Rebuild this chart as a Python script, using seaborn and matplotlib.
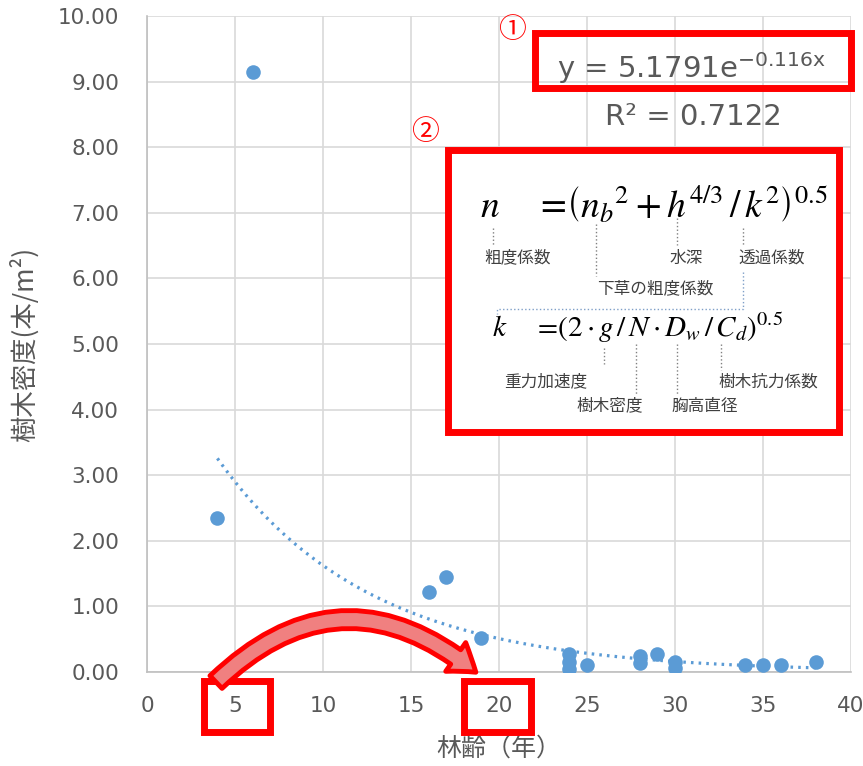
import numpy as np
import pandas as pd
import seaborn as sns
import matplotlib.pyplot as plt
from matplotlib.patches import Rectangle, FancyArrowPatch
from matplotlib.lines import Line2D

# data
age = [4, 6, 16, 17, 19, 24, 24, 24, 25, 28, 28, 29, 30, 30, 34, 35, 36, 38]
density = [2.35, 9.15, 1.22, 1.45, 0.52, 0.28, 0.15, 0.05, 0.11, 0.24, 0.13,
           0.27, 0.15, 0.06, 0.11, 0.10, 0.11, 0.16]
fit_a = 5.1791
fit_b = -0.116
x_ticks = [0, 5, 10, 15, 20, 25, 30, 35, 40]
y_ticks = [0, 1, 2, 3, 4, 5, 6, 7, 8, 9, 10]

sns.set_style("white")
plt.rcParams['font.family'] = ['Noto Sans CJK JP', 'DejaVu Sans']
plt.rcParams['mathtext.fontset'] = 'stix'

W, H = 863, 766
fig = plt.figure(figsize=(W / 100, H / 100), dpi=100)
fig.patch.set_facecolor('white')


def fx(px):
    return px / W


def fy(py):
    return 1 - py / H


ax = fig.add_axes([fx(147), fy(672), fx(851) - fx(147), (672 - 16) / H])

df = pd.DataFrame({'age': age, 'density': density})
sns.scatterplot(data=df, x='age', y='density', ax=ax, s=110,
                color='#5b9bd5', edgecolor='#5b9bd5', linewidth=0, zorder=3)

trend = pd.DataFrame({'age': np.linspace(min(age), max(age), 200)})
trend['density'] = fit_a * np.exp(fit_b * trend['age'])
sns.lineplot(data=trend, x='age', y='density', ax=ax, color='#5b9bd5',
             linewidth=2.3, linestyle=(0, (0.8, 1.6)), zorder=2)

ax.set_xlim(0, 40)
ax.set_ylim(0, 10)
ax.set_xticks(x_ticks)
ax.set_yticks(y_ticks)
ax.set_yticklabels([f'{v:.2f}' for v in y_ticks])
ax.grid(True, color='#d9d9d9', linewidth=1.2)
ax.set_axisbelow(True)
for s in ['top', 'right']:
    ax.spines[s].set_visible(False)
for s in ['left', 'bottom']:
    ax.spines[s].set_color('#bfbfbf')
    ax.spines[s].set_linewidth(1.2)
ax.tick_params(length=0, labelsize=15.5, colors='#595959')
ax.tick_params(axis='x', pad=17)
ax.tick_params(axis='y', pad=20)
for lab in ax.get_xticklabels() + ax.get_yticklabels():
    lab.set_family('DejaVu Sans')
ax.set_xlabel('林齢（年）', fontsize=18, color='#595959', va='center')
ax.xaxis.set_label_coords(0.5, (672 - 749) / 656)
ax.set_ylabel('樹木密度(本/m²)', fontsize=19, color='#595959', labelpad=14)

gray = '#595959'
red = '#ff0000'

# fitted equation
fig.text(fx(692), fy(68), r'y = 5.1791e$^{\mathregular{-0.116x}}$', fontsize=21,
         color=gray, ha='center', va='center', family='DejaVu Sans')
fig.text(fx(693), fy(117), 'R² = 0.7122', fontsize=21, color=gray,
         ha='center', va='center', family='DejaVu Sans')
fig.patches.append(Rectangle((fx(535), fy(88)), fx(851) - fx(535), (88 - 33) / H,
                             transform=fig.transFigure, fill=False,
                             edgecolor=red, linewidth=5))
fig.text(fx(512), fy(30), '①', fontsize=20, color=red, ha='center', va='center')
fig.text(fx(425), fy(132), '②', fontsize=20, color=red, ha='center', va='center')

# formula box
fig.patches.append(Rectangle((fx(448), fy(432)), fx(839) - fx(448), (432 - 150) / H,
                             transform=fig.transFigure, facecolor='white',
                             edgecolor=red, linewidth=5, zorder=5))
fig.text(fx(480), fy(206), r'$n\quad\ =\!\left(n_b{}^2+h^{4/3}\,/\,k^2\right)^{0.5}$',
         fontsize=27, color='black', ha='left', va='center', zorder=6)
fig.text(fx(492), fy(328), r'$k\quad\ =\!\left(2\cdot g\,/\,N\cdot D_w\,/\,C_d\right)^{0.5}$',
         fontsize=21, color='black', ha='left', va='center', zorder=6)

labels = [('粗度係数', 518, 258), ('水深', 686, 258), ('透過係数', 772, 258),
          ('下草の粗度係数', 655, 289), ('重力加速度', 546, 382),
          ('樹木密度', 610, 406), ('胸高直径', 705, 406), ('樹木抗力係数', 768, 382)]
for t, x, y in labels:
    fig.text(fx(x), fy(y), t, fontsize=12, color='#404040', ha='center',
             va='center', zorder=6)

leaders = [((493, 493), (228, 245)), ((596, 596), (224, 276)),
           ((677, 677), (218, 245)), ((743, 743), (228, 245)),
           ((604, 604), (348, 364)), ((636, 636), (344, 395)),
           ((677, 677), (344, 395)), ((721, 721), (344, 370))]
for xs, ys in leaders:
    fig.lines.append(Line2D([fx(v) for v in xs], [fy(v) for v in ys],
                            transform=fig.transFigure, color='#808080',
                            linewidth=1, linestyle=':', zorder=6))
fig.lines.append(Line2D([fx(743), fx(743), fx(497), fx(497)],
                        [fy(272), fy(309), fy(309), fy(314)],
                        transform=fig.transFigure, color='#7f9fc8',
                        linewidth=1, linestyle=':', zorder=6))

# highlight boxes on tick labels
for x0, x1 in [(204, 270), (464, 531)]:
    fig.patches.append(Rectangle((fx(x0), fy(732)), fx(x1) - fx(x0), (732 - 681) / H,
                                 transform=fig.transFigure, fill=False,
                                 edgecolor=red, linewidth=5))

arrow = FancyArrowPatch((fx(214), fy(684)), (fx(478), fy(674)),
                        transform=fig.transFigure,
                        connectionstyle='arc3,rad=-0.45',
                        arrowstyle='simple,head_width=1.8,head_length=1.3,tail_width=0.9',
                        mutation_scale=14, facecolor='#f08080', edgecolor=red,
                        linewidth=3.5)
fig.patches.append(arrow)

fig.savefig('out.png', dpi=100, facecolor='white')
